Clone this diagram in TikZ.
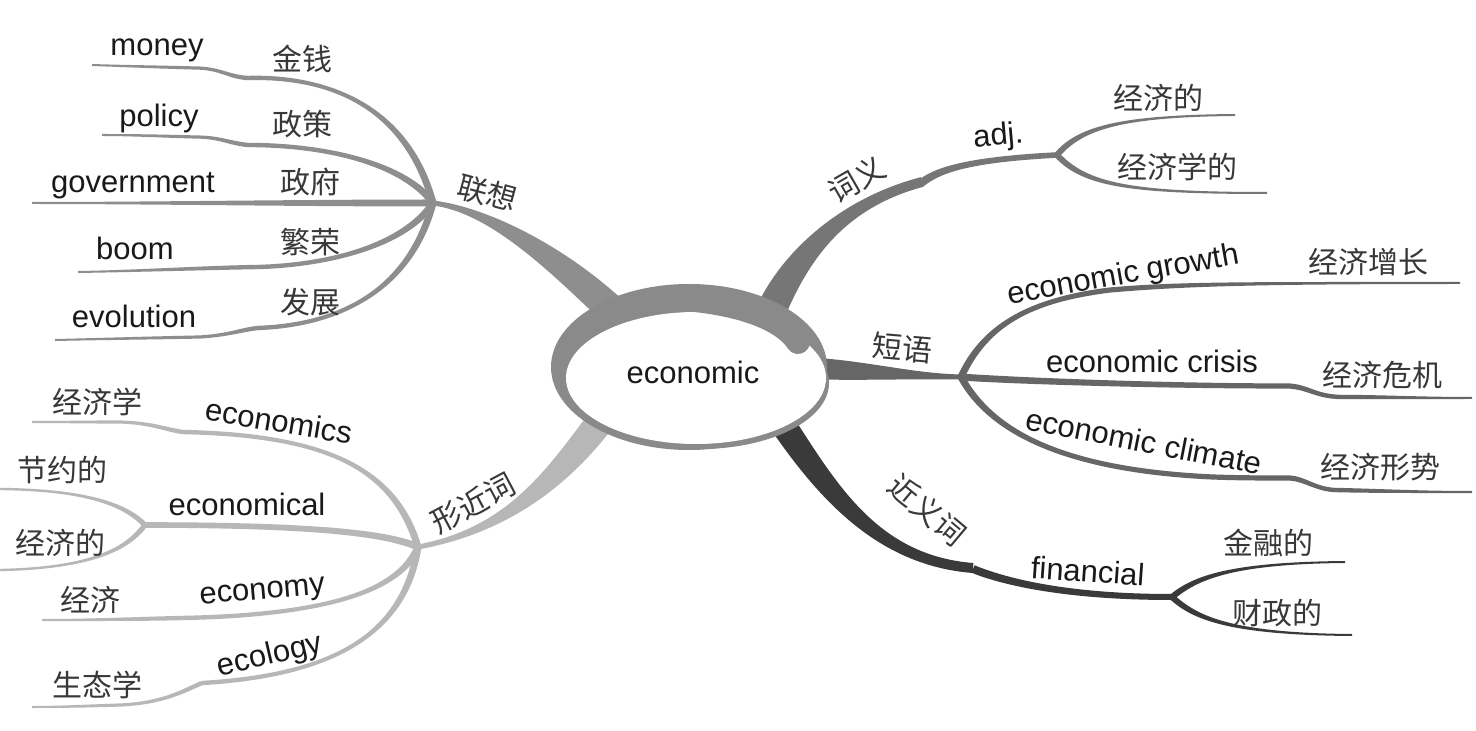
\documentclass[tikz,border=0pt]{standalone}
\usepackage{fontspec}
\setmainfont{Liberation Sans}
\newfontfamily\cjk{Noto Sans CJK SC}
\usetikzlibrary{calc}
\definecolor{cLX}{HTML}{8E8E8E}
\definecolor{cXJ}{HTML}{B7B7B7}
\definecolor{cCY}{HTML}{767676}
\definecolor{cDY}{HTML}{666666}
\definecolor{cJY}{HTML}{3A3A3A}
\definecolor{cRing}{HTML}{8A8A8A}
% tapered cubic branch: colour, P0, P1, P2, P3, half width at P0, half width at P3
\newcommand\taperb[7]{\fill[#1] ($(#2)!#6!90:(#3)$) .. controls ($(#3)!#6!-90:(#2)$) and ($(#4)!#7!90:(#5)$) .. ($(#5)!#7!-90:(#4)$) -- ($(#5)!#7!90:(#4)$) .. controls ($(#4)!#7!-90:(#5)$) and ($(#3)!#6!90:(#2)$) .. ($(#2)!#6!-90:(#3)$) -- cycle;}
\tikzset{
  en/.style={font=\fontsize{15.5}{18}\selectfont, text=black!90, inner sep=0pt},
  zh/.style={font=\cjk\fontsize{15}{18}\selectfont, text=black!78, inner sep=0pt},
}
\begin{document}
\begin{tikzpicture}[x=0.5pt,y=-0.5pt]
\fill[white] (0,0) rectangle (1476,731);
\useasboundingbox (0,0) rectangle (1476,731);

\coordinate (J1) at (433,203);
\coordinate (J2) at (418,547);
\coordinate (J2b) at (145,525);
\coordinate (J3) at (1057,155);
\coordinate (J4) at (961,377);
\coordinate (J5) at (1172,597);

% ---------- 联想 ----------
\taperb{cLX}{620,318}{560,260}{490,210}{J1}{7.5pt}{1.25pt}
\taperb{cLX}{J1}{405,100}{320,76}{248,78}{1.75pt}{1.1pt}
\taperb{cLX}{248,78}{228,77}{220,68}{195,68}{1.1pt}{0.8pt}
\taperb{cLX}{195,68}{160,67}{120,66}{92,65}{0.8pt}{0.5pt}
\taperb{cLX}{J1}{405,165}{330,145}{248,145}{1.75pt}{1.1pt}
\taperb{cLX}{248,145}{228,143}{220,137}{195,137}{1.1pt}{0.8pt}
\taperb{cLX}{195,137}{160,136}{130,135}{102,135}{0.8pt}{0.5pt}
\taperb{cLX}{J1}{300,203}{150,203}{32,203}{1.75pt}{0.5pt}
\taperb{cLX}{J1}{405,245}{330,265}{258,267}{1.75pt}{1.1pt}
\taperb{cLX}{258,267}{200,268}{140,271}{78,272}{1.1pt}{0.5pt}
\taperb{cLX}{J1}{410,290}{340,325}{258,328}{1.75pt}{1.1pt}
\taperb{cLX}{258,328}{240,330}{230,335}{200,337}{1.1pt}{0.8pt}
\taperb{cLX}{200,337}{150,338}{100,339}{55,340}{0.8pt}{0.5pt}

% ---------- 形近词 ----------
\taperb{cXJ}{605,415}{560,475}{510,530}{J2}{7pt}{1.25pt}
\taperb{cXJ}{J2}{395,470}{330,435}{182,432}{1.75pt}{1.1pt}
\taperb{cXJ}{182,432}{160,428}{150,423}{120,422}{1.1pt}{0.8pt}
\taperb{cXJ}{120,422}{90,422}{60,422}{32,422}{0.8pt}{0.5pt}
\taperb{cXJ}{J2}{390,535}{330,525}{J2b}{1.75pt}{1.4pt}
\taperb{cXJ}{J2b}{130,510}{100,490}{0,489}{1.3pt}{0.6pt}
\taperb{cXJ}{J2b}{130,545}{100,568}{0,570}{1.3pt}{0.6pt}
\taperb{cXJ}{J2}{400,590}{330,615}{182,618}{1.75pt}{1.1pt}
\taperb{cXJ}{182,618}{140,619}{90,620}{42,620}{1.1pt}{0.5pt}
\taperb{cXJ}{J2}{405,630}{340,675}{202,683}{1.75pt}{1.1pt}
\taperb{cXJ}{202,683}{185,690}{165,703}{120,705}{1.1pt}{0.8pt}
\taperb{cXJ}{120,705}{90,706}{60,707}{32,707}{0.8pt}{0.5pt}

% ---------- 词义 ----------
\taperb{cCY}{768,318}{790,265}{835,205}{922,182}{7.5pt}{2.5pt}
\taperb{cCY}{920,184}{935,172}{960,160}{J3}{2pt}{1.4pt}
\taperb{cCY}{J3}{1080,128}{1120,116}{1235,115}{1.5pt}{0.5pt}
\taperb{cCY}{J3}{1085,185}{1130,193}{1267,193}{1.5pt}{0.5pt}

% ---------- 短语 ----------
\taperb{cDY}{800,368}{860,370}{910,376}{J4}{5.5pt}{1.25pt}
\taperb{cDY}{J4}{985,325}{1030,300}{1110,290}{1.75pt}{1.3pt}
\taperb{cDY}{1110,290}{1180,284}{1250,283}{1460,283}{1.3pt}{0.5pt}
\taperb{cDY}{J4}{1000,380}{1150,386}{1290,386}{1.75pt}{1.3pt}
\taperb{cDY}{1290,386}{1310,388}{1315,396}{1340,397}{1.3pt}{1.1pt}
\taperb{cDY}{1340,397}{1380,397}{1420,398}{1472,398}{1.1pt}{0.5pt}
\taperb{cDY}{J4}{990,430}{1060,470}{1213,477}{1.75pt}{1.3pt}
\taperb{cDY}{1213,477}{1240,478}{1265,478}{1290,478}{1.3pt}{1.3pt}
\taperb{cDY}{1290,478}{1305,479}{1315,489}{1335,490}{1.3pt}{1.1pt}
\taperb{cDY}{1335,490}{1380,491}{1420,492}{1472,492}{1.1pt}{0.5pt}

% ---------- 近义词 ----------
\taperb{cJY}{770,405}{820,480}{870,560}{973,568}{6.5pt}{2.5pt}
\taperb{cJY}{973,569}{1000,580}{1060,597}{J5}{2pt}{1.5pt}
\taperb{cJY}{J5}{1195,578}{1230,563}{1345,562}{1.5pt}{0.5pt}
\taperb{cJY}{J5}{1195,618}{1230,634}{1352,635}{1.5pt}{0.5pt}

% ---------- centre ----------
\fill[cRing] (689,367) ellipse [x radius=138, y radius=83];
\fill[cRing] (700,383) ellipse [x radius=129, y radius=66];
\fill[white] (696,378) ellipse [x radius=130, y radius=66];
\draw[cRing, line width=12pt, line cap=round] (695,300) .. controls (750,306) and (785,322) .. (798,342);
\node[en] (center) at (693,372) {economic};

% ---------- labels ----------
\node[zh, rotate=-15] (zLX) at (487,193) {联想};
\node[en, anchor=base] (tMoney) at (157,56) {money};
\node[en, anchor=base] (tPolicy) at (159,127) {policy};
\node[en, anchor=base] (tGov) at (133,193) {government};
\node[en, anchor=base] (tBoom) at (135,260) {boom};
\node[en, anchor=base] (tEvo) at (134,328) {evolution};
\node[zh] (zJQ) at (302,59) {金钱};
\node[zh] (zZC) at (302,124) {政策};
\node[zh] (zZF) at (310,182) {政府};
\node[zh] (zFR) at (310,242) {繁荣};
\node[zh] (zFZ) at (310,302) {发展};

\node[zh, rotate=28] (zXJC) at (473,503) {形近词};
\node[zh] (zJJX) at (97,402) {经济学};
\node[en, anchor=base, rotate=-9.5] (tEcs) at (277,432) {economics};
\node[zh] (zJYD) at (63,470) {节约的};
\node[zh] (zJJD1) at (60,543) {经济的};
\node[en, anchor=base] (tEcl) at (247,515) {economical};
\node[zh] (zJJ) at (90,600) {经济};
\node[en, anchor=base, rotate=5] (tEcy) at (263,599) {economy};
\node[zh] (zSTX) at (97,685) {生态学};
\node[en, anchor=base, rotate=13] (tEcg) at (272,664) {ecology};

\node[zh, rotate=30] (zCY) at (857,180) {词义};
\node[en, anchor=base, rotate=5] (tAdj) at (999,145) {adj.};
\node[zh] (zJJD2) at (1158,98) {经济的};
\node[zh] (zJJXD) at (1177,167) {经济学的};

\node[zh, rotate=-5] (zDY) at (902,348) {短语};
\node[en, anchor=base, rotate=10] (tGrowth) at (1125,284) {economic growth};
\node[zh] (zJJZZ) at (1368,262) {经济增长};
\node[en, anchor=base] (tCrisis) at (1152,373) {economic crisis};
\node[zh] (zJJWJ) at (1382,375) {经济危机};
\node[en, anchor=base, rotate=-11] (tClimate) at (1142,452) {economic climate};
\node[zh] (zJJXS) at (1380,467) {经济形势};

\node[zh, rotate=-40] (zJYC) at (927,510) {近义词};
\node[en, anchor=base, rotate=-4] (tFin) at (1087,582) {financial};
\node[zh] (zJRD) at (1268,543) {金融的};
\node[zh] (zCZD) at (1277,613) {财政的};
\end{tikzpicture}
\end{document}
